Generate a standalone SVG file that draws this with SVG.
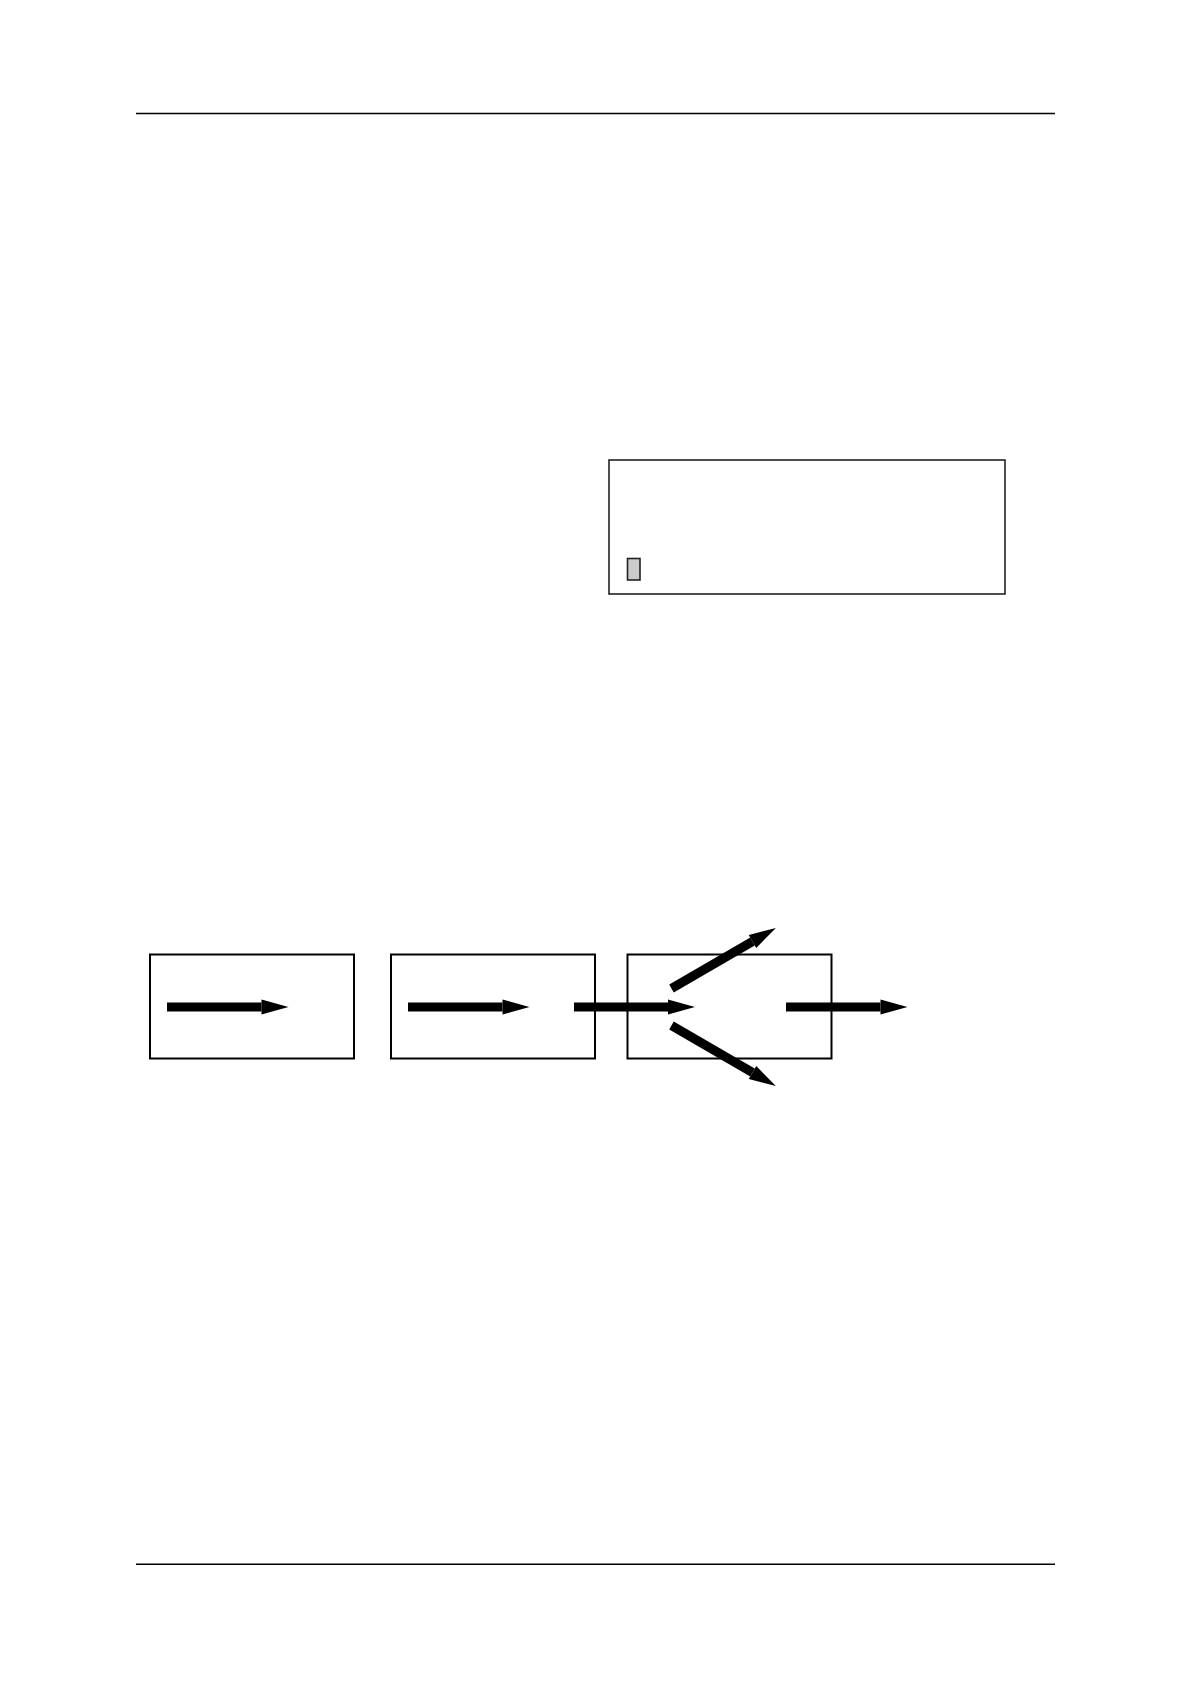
<svg xmlns="http://www.w3.org/2000/svg" width="1190" height="1684" viewBox="0 0 1190 1684">
  <style>
    .rule { stroke: #000; stroke-width: 1.4; fill: none; }
    .box { fill: #fff; stroke: #000; stroke-width: 2; }
    .panel { fill: #fff; stroke: #222; stroke-width: 1.6; }
    .chip { fill: #cccccc; stroke: #222; stroke-width: 1.6; }
    .arrow { stroke: #000; stroke-width: 9; fill: none; marker-end: url(#head); }
  </style>
  <defs>
    <marker id="head" markerUnits="userSpaceOnUse" markerWidth="28" markerHeight="16" refX="0" refY="7.5" orient="auto" overflow="visible">
      <path d="M0,0 L27,7.5 L0,15 z" fill="#000"/>
    </marker>
  </defs>
  <rect width="1190" height="1684" fill="#fff"/>
  <line class="rule" x1="136" y1="113.5" x2="1055" y2="113.5"/>
  <line class="rule" x1="136" y1="1564.3" x2="1055" y2="1564.3"/>

  <g id="panel">
    <rect class="panel" x="609" y="460" width="396" height="134"/>
    <rect class="chip" x="627.5" y="558.5" width="12.5" height="21.5"/>
  </g>

  <g id="node1"><rect class="box" x="150" y="954.5" width="204" height="104"/></g>
  <g id="node2"><rect class="box" x="391" y="954.5" width="204" height="104"/></g>
  <g id="node3"><rect class="box" x="627.5" y="954.5" width="204" height="104"/></g>

  <g id="connectors">
    <line class="arrow" x1="167" y1="1007" x2="261.5" y2="1007"/>
    <line class="arrow" x1="408" y1="1007" x2="502.5" y2="1007"/>
    <line class="arrow" x1="574" y1="1007" x2="668" y2="1007"/>
    <line class="arrow" x1="786" y1="1007" x2="880.5" y2="1007"/>
    <line class="arrow" x1="671.5" y1="988.5" x2="752.5" y2="941.5"/>
    <line class="arrow" x1="671.5" y1="1025.5" x2="752.5" y2="1072.5"/>
  </g>
</svg>
